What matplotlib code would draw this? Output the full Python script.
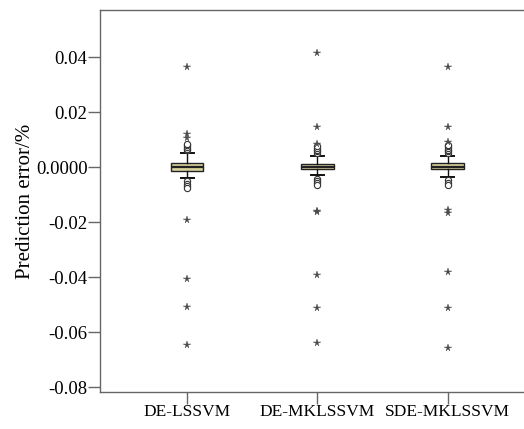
import matplotlib
matplotlib.use("Agg")
import matplotlib.pyplot as plt

plt.rcParams["font.family"] = ["Liberation Serif", "DejaVu Serif"]

# ── data ─────────────────────────────────────────────────────────────────
models = ["DE-LSSVM", "DE-MKLSSVM", "SDE-MKLSSVM"]
medians = [0.0000, 0.0001, 0.0001]
q1 = [-0.0014, -0.0007, -0.0007]
q3 = [0.0017, 0.0010, 0.0014]
whis_lo = [-0.0041, -0.0030, -0.0036]
whis_hi = [0.0051, 0.0040, 0.0040]

# mild outliers (circles)
outliers = [
    [0.0062, 0.0068, 0.0074, 0.0080, 0.0086, -0.0052, -0.0060, -0.0068, -0.0076],
    [0.0052, 0.0058, 0.0064, 0.0070, 0.0076, -0.0042, -0.0050, -0.0058, -0.0064],
    [0.0052, 0.0058, 0.0064, 0.0070, 0.0076, 0.0082, -0.0048, -0.0057, -0.0066],
]
# extreme values (stars)
extremes = [
    [0.0363, 0.0119, 0.0108, -0.0191, -0.0406, -0.0509, -0.0646],
    [0.0416, 0.0145, 0.0086, -0.0160, -0.0163, -0.0394, -0.0514, -0.0641],
    [0.0366, 0.0147, 0.0093, -0.0156, -0.0166, -0.0380, -0.0514, -0.0657],
]

y_ticks = [0.04, 0.02, 0.0, -0.02, -0.04, -0.06, -0.08]
y_labels = ["0.04", "0.02", "0.0000", "-0.02", "-0.04", "-0.06", "-0.08"]

positions = [1, 2, 3]

fig = plt.figure(figsize=(5.24, 4.29), dpi=100)
ax = fig.add_axes([100 / 524, 1 - 392 / 429, 430 / 524, 382 / 429])

stats = []
for i, name in enumerate(models):
    stats.append({
        "label": name, "med": medians[i], "q1": q1[i], "q3": q3[i],
        "whislo": whis_lo[i], "whishi": whis_hi[i], "fliers": outliers[i],
    })

ax.bxp(
    stats, positions=positions, widths=0.25, capwidths=0.1,
    patch_artist=True, showfliers=True,
    boxprops=dict(facecolor="#d8d29c", edgecolor="#222222", linewidth=1.0),
    medianprops=dict(color="#222222", linewidth=1.6),
    whiskerprops=dict(color="#111111", linewidth=1.0),
    capprops=dict(color="#111111", linewidth=1.4),
    flierprops=dict(marker="o", markersize=4.5, markerfacecolor="white",
                    markeredgecolor="#333333", markeredgewidth=0.8),
)

for pos, vals in zip(positions, extremes):
    ax.plot([pos] * len(vals), vals, linestyle="none", marker="*",
            markersize=5.5, color="#4a4a4a", markeredgewidth=0.3)

ax.set_xlim(0.332, 3.633)
ax.set_ylim(-0.0818, 0.0572)
ax.set_yticks(y_ticks)
ax.set_yticklabels(y_labels)
ax.set_xticks(positions)
ax.set_xticklabels(models)
ax.set_ylabel("Prediction error/%", fontsize=15)
ax.yaxis.set_label_coords(-0.150, 0.5)

for side in ["left", "bottom", "top"]:
    ax.spines[side].set_color("#666666")
    ax.spines[side].set_linewidth(1.0)
ax.spines["right"].set_visible(False)
ax.tick_params(direction="out", length=8.5, width=1.0, color="#666666",
               labelcolor="black", pad=0.5)
ax.tick_params(axis="y", labelsize=13.5)
ax.tick_params(axis="x", labelsize=12.5)

fig.savefig("out.png", dpi=100)
